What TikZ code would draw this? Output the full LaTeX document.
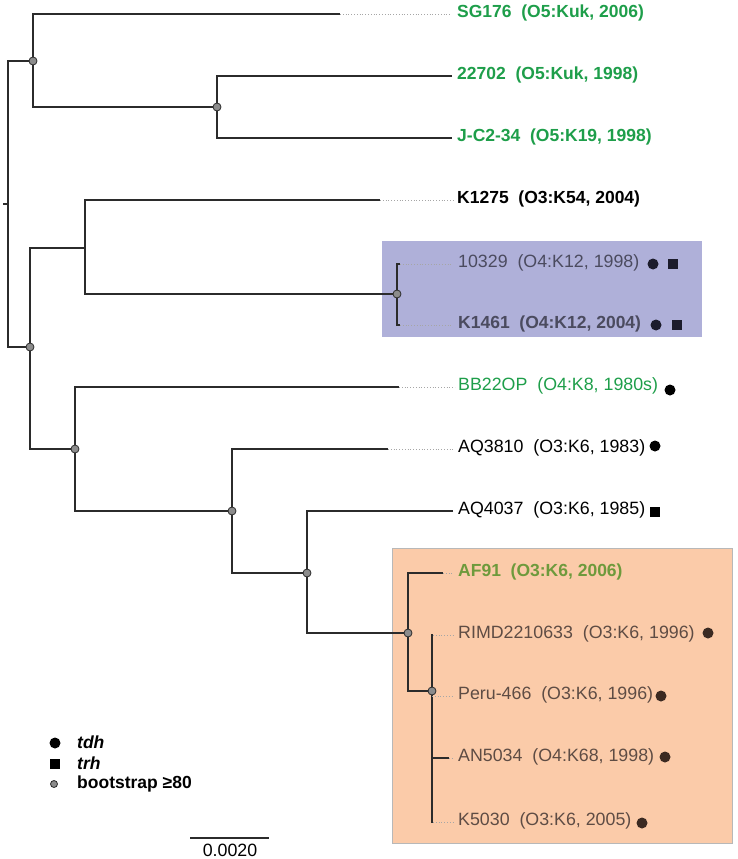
\documentclass[tikz,border=0pt]{standalone}
\usepackage{fontspec}
\setmainfont{Liberation Sans}
\definecolor{grn}{HTML}{1E9E4A}
\definecolor{olive}{HTML}{6E9A3C}
\definecolor{boxpurple}{HTML}{AFB0D9}
\definecolor{txtpurple}{HTML}{4B4B5F}
\definecolor{mkpurple}{HTML}{1C1C2C}
\definecolor{boxorange}{HTML}{FBCBA9}
\definecolor{boxborder}{HTML}{B8B8B8}
\definecolor{txtorange}{HTML}{5E4C44}
\definecolor{mkorange}{HTML}{3B2A22}
\definecolor{treeline}{HTML}{2B2B2B}
\definecolor{bootfill}{HTML}{8C8C8C}
\begin{document}
\begin{tikzpicture}[x=1pt,y=-1pt,
  branch/.style={draw=treeline,line width=1.4pt},
  dotline/.style={draw=gray!70,line width=0.8pt,dotted},
  boot/.style={circle,draw=treeline,fill=bootfill,line width=0.8pt,minimum size=8pt,inner sep=0pt},
  leaf/.style={anchor=west,inner sep=0pt,font=\fontsize{17.8}{20}\selectfont},
  bleaf/.style={leaf,font=\fontsize{17.5}{20}\selectfont\bfseries},
  tdh/.style={circle,fill=#1,minimum size=11pt,inner sep=0pt},
  tdh/.default=black,
  trh/.style={rectangle,fill=#1,minimum size=10pt,inner sep=0pt},
  trh/.default=black]
\useasboundingbox (0,0) rectangle (737,859);
% boxes
\node[draw=none,fill=boxpurple,minimum width=320pt,minimum height=96pt,anchor=north west,inner sep=0pt] (pbox) at (382,241) {};
\node[draw=boxborder,fill=boxorange,line width=1.2pt,minimum width=340pt,minimum height=295pt,anchor=north west,inner sep=0pt] (obox) at (392,548) {};

% coordinates of internal nodes
\coordinate (r0) at (3,204);
\coordinate (r) at (8,204);
\coordinate (nA) at (33,61);
\coordinate (nA2) at (217,107);
\coordinate (nBC) at (30,347);
\coordinate (nB) at (85,248);
\coordinate (nP) at (397,294);
\coordinate (nC) at (75,449);
\coordinate (nD) at (232,511);
\coordinate (nE) at (307,573);
\coordinate (nF) at (408,633);
\coordinate (nG) at (432,691);
% branch ends
\coordinate (eSG) at (340,14);   \coordinate (tSG) at (451,14);
\coordinate (e22702) at (452,76);
\coordinate (eJC) at (452,138);
\coordinate (eK1275) at (380,200); \coordinate (tK1275) at (455,200);
\coordinate (e10329) at (400,264); \coordinate (t10329) at (453,264);
\coordinate (eK1461) at (400,325); \coordinate (tK1461) at (453,325);
\coordinate (eBB) at (399,387);  \coordinate (tBB) at (455,387);
\coordinate (eAQ38) at (388,449); \coordinate (tAQ38) at (453,449);
\coordinate (eAQ40) at (453,511);
\coordinate (eAF) at (443,573);  \coordinate (tAF) at (453,573);
\coordinate (eRIMD) at (433,635); \coordinate (tRIMD) at (453,635);
\coordinate (sPeru) at (432,696); \coordinate (tPeru) at (453,696);
\coordinate (sAN) at (432,758);   \coordinate (eAN) at (449,758); \coordinate (tAN) at (453,758);
\coordinate (eK5030) at (433,822); \coordinate (tK5030) at (453,822);

% tree
\draw[branch] (r0) -- (r);
\draw[branch] (nA) -| (r) |- (nBC);
\draw[branch] (eSG) -| (nA) |- (nA2);
\draw[branch] (e22702) -| (nA2) |- (eJC);
\draw[branch] (nB) -| (nBC) |- (nC);
\draw[branch] (eK1275) -| (nB) |- (nP);
\draw[branch] (e10329) -| (nP) |- (eK1461);
\draw[branch] (eBB) -| (nC) |- (nD);
\draw[branch] (eAQ38) -| (nD) |- (nE);
\draw[branch] (eAQ40) -| (nE) |- (nF);
\draw[branch] (eAF) -| (nF) |- (nG);
\draw[branch] (eRIMD) -| (nG) |- (eK5030);
\draw[branch] (sAN) -- (eAN);
% dotted extensions
\draw[dotline] (eSG) -- (tSG);
\draw[dotline] (eK1275) -- (tK1275);
\draw[dotline] (e10329) -- (t10329);
\draw[dotline] (eK1461) -- (tK1461);
\draw[dotline] (eBB) -- (tBB);
\draw[dotline] (eAQ38) -- (tAQ38);
\draw[dotline] (eAF) -- (tAF);
\draw[dotline] (eRIMD) -- (tRIMD);
\draw[dotline] (sPeru) -- (tPeru);
\draw[dotline] (eAN) -- (tAN);
\draw[dotline] (eK5030) -- (tK5030);
% bootstrap circles
\foreach \n in {nA,nA2,nBC,nP,nC,nD,nE,nF,nG} \node[boot] (b\n) at (\n) {};

% labels
\node[bleaf,text=grn] (lSG) at (457,13) {SG176\ \ (O5:Kuk, 2006)};
\node[bleaf,text=grn] (l22702) at (457,75) {22702\ \ (O5:Kuk, 1998)};
\node[bleaf,text=grn] (lJC) at (457,137) {J-C2-34\ \ (O5:K19, 1998)};
\node[bleaf,text=black] (lK1275) at (457,199) {K1275\ \ (O3:K54, 2004)};
\node[leaf,text=txtpurple] (l10329) at (458,263) {10329\ \ (O4:K12, 1998)};
\node[bleaf,text=txtpurple] (lK1461) at (458,324) {K1461\ \ (O4:K12, 2004)};
\node[leaf,text=grn] (lBB) at (458,386) {BB22OP\ \ (O4:K8, 1980s)};
\node[leaf,text=black] (lAQ38) at (458,448) {AQ3810\ \ (O3:K6, 1983)};
\node[leaf,text=black] (lAQ40) at (458,510) {AQ4037\ \ (O3:K6, 1985)};
\node[bleaf,text=olive] (lAF) at (458,572) {AF91\ \ (O3:K6, 2006)};
\node[leaf,text=txtorange] (lRIMD) at (458,634) {RIMD2210633\ \ (O3:K6, 1996)};
\node[leaf,text=txtorange] (lPeru) at (458,695) {Peru-466\ \ (O3:K6, 1996)};
\node[leaf,text=txtorange] (lAN) at (458,757) {AN5034\ \ (O4:K68, 1998)};
\node[leaf,text=txtorange] (lK5030) at (458,821) {K5030\ \ (O3:K6, 2005)};

% markers
\node[tdh=mkpurple] (m1) at (653,264) {};
\node[trh=mkpurple] (m2) at (673,264) {};
\node[tdh=mkpurple] (m3) at (656,325) {};
\node[trh=mkpurple] (m4) at (677,325) {};
\node[tdh] (m5) at (670,390) {};
\node[tdh] (m6) at (655,446) {};
\node[trh] (m7) at (655,512) {};
\node[tdh=mkorange] (m8) at (708,633) {};
\node[tdh=mkorange] (m9) at (661,696) {};
\node[tdh=mkorange] (m10) at (665,757) {};
\node[tdh=mkorange] (m11) at (642,823) {};

% legend
\node[tdh] (g1) at (55,743) {};
\node[trh] (g2) at (55,764) {};
\node[boot,minimum size=7pt] (g3) at (54,784) {};
\node[bleaf] (gt1) at (77,742) {\itshape tdh};
\node[bleaf] (gt2) at (77,763) {\itshape trh};
\node[bleaf] (gt3) at (77,784) {bootstrap ≥80};

% scale bar
\coordinate (s1) at (190,838);
\coordinate (s2) at (269,838);
\draw[line width=1.2pt,draw=treeline] (s1) -- (s2);
\node[font=\fontsize{17.8}{20}\selectfont,inner sep=0pt] (st) at (230,850) {0.0020};
\end{tikzpicture}
\end{document}
